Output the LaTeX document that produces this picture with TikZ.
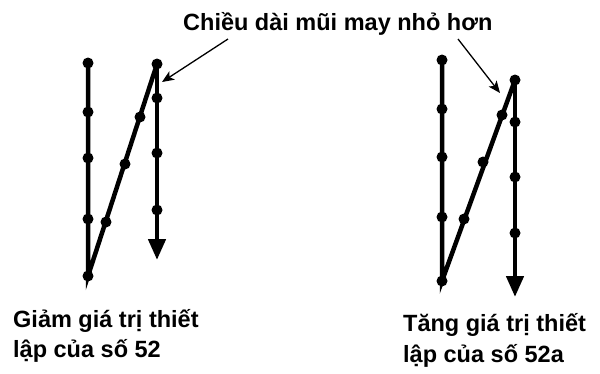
\documentclass[tikz,border=0pt]{standalone}
\usepackage{fontspec}
\setmainfont{Liberation Sans}
\usetikzlibrary{arrows.meta}
\tikzset{
  dot/.style={circle, fill, inner sep=0pt, minimum size=11pt},
  seam/.style={line width=4.5pt},
  seamend/.style={seam, -{Triangle[width=17pt, length=21pt]}},
  callout/.style={line width=1.3pt, -{Stealth[width=10pt, length=12pt, inset=3pt]}},
  txt/.style={font=\fontsize{23.5}{28}\selectfont\bfseries, inner sep=0pt}
}
\begin{document}
\begin{tikzpicture}[x=1pt, y=-1pt]
  \useasboundingbox (0,0) rectangle (600,373);
  % left: Giam
  \node[dot] (a1) at (88,63) {}; \node[dot] (a2) at (88,112) {};
  \node[dot] (a3) at (88,158) {}; \node[dot] (a4) at (88,219) {};
  \node[dot] (a5) at (88,276) {};
  \node[dot] (d1) at (106,222) {}; \node[dot] (d2) at (125,164) {};
  \node[dot] (d3) at (140,117) {};
  \node[dot] (b0) at (157,64) {}; \node[dot] (b1) at (157,98) {};
  \node[dot] (b2) at (157,153) {}; \node[dot] (b3) at (157,210) {};
  \coordinate (bt) at (157,260);
  \draw[seam] (a1.center) -- (a5.center) -- (b0.center);
  \draw[seamend] (b0.center) -- (bt);
  % right: Tang
  \node[dot] (p1) at (442,60) {}; \node[dot] (p2) at (442,109) {};
  \node[dot] (p3) at (442,157) {}; \node[dot] (p4) at (442,217) {};
  \node[dot] (p5) at (442,281) {};
  \node[dot] (e1) at (464,219) {}; \node[dot] (e2) at (483,162) {};
  \node[dot] (e3) at (502,115) {};
  \node[dot] (q0) at (515,80) {}; \node[dot] (q1) at (515,122) {};
  \node[dot] (q2) at (515,177) {}; \node[dot] (q3) at (515,233) {};
  \coordinate (qt) at (515,297);
  \draw[seam] (p1.center) -- (p5.center) -- (q0.center);
  \draw[seamend] (q0.center) -- (qt);
  % labels
  \node[txt, anchor=base west] (title) at (183,30) {Chiều dài mũi may nhỏ hơn};
  \coordinate (t1) at (228,39); \coordinate (t2) at (458,39);
  \coordinate (h1) at (162,82); \coordinate (h2) at (500,93);
  \draw[callout] (t1) -- (h1);
  \draw[callout] (t2) -- (h2);
  \node[txt, anchor=base west] (giam1) at (13,327) {Giảm giá trị thiết};
  \node[txt, anchor=base west] (giam2) at (13,357) {lập của số 52};
  \node[txt, anchor=base west] (tang1) at (403,331) {Tăng giá trị thiết};
  \node[txt, anchor=base west] (tang2) at (403,362) {lập của số 52a};
\end{tikzpicture}
\end{document}
